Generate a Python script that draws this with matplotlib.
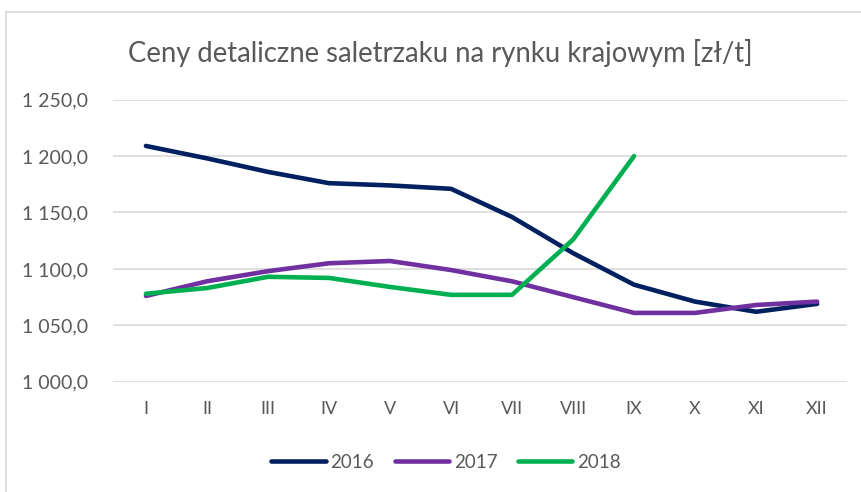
import matplotlib
matplotlib.use("Agg")
import matplotlib.pyplot as plt
from matplotlib.lines import Line2D
from matplotlib.ticker import FuncFormatter

months = ["I", "II", "III", "IV", "V", "VI", "VII", "VIII", "IX", "X", "XI", "XII"]
y2016 = [1209, 1198, 1186, 1176, 1174, 1171, 1146, 1114, 1086, 1071, 1062, 1069]
y2017 = [1076, 1089, 1098, 1105, 1107, 1099, 1089, 1075, 1061, 1061, 1068, 1071]
y2018 = [1078, 1083, 1093, 1092, 1084, 1077, 1077, 1126, 1200]
series = [("2016", y2016, "#002060"), ("2017", y2017, "#7030A0"), ("2018", y2018, "#00B050")]
title = "Ceny detaliczne saletrzaku na rynku krajowym [zł/t]"

plt.rcParams['font.family'] = ['Lato', 'DejaVu Sans']
txt = "#595959"

fig = plt.figure(figsize=(8.62, 4.92), dpi=100)
fig.patch.set_facecolor("white")
# chart border (left and top visible)
fig.add_artist(Line2D([6/862, 6/862], [0, 1 - 12/492], transform=fig.transFigure, color="#D9D9D9", lw=1.2))
fig.add_artist(Line2D([6/862, 1], [1 - 12/492, 1 - 12/492], transform=fig.transFigure, color="#D9D9D9", lw=1.2))

ax = fig.add_axes([113/862, 1 - 381.7/492, (847 - 113)/862, (381.7 - 99.7)/492])
x = list(range(len(months)))
for name, vals, c in series:
    ax.plot(x[:len(vals)], vals, color=c, lw=3.3, solid_capstyle="round", solid_joinstyle="round", label=name)

ax.set_ylim(1000, 1250)
ax.set_yticks([1000, 1050, 1100, 1150, 1200, 1250])
ax.yaxis.set_major_formatter(FuncFormatter(lambda v, p: ("{:,.1f}".format(v)).replace(",", " ").replace(".", ",")))
ax.set_xlim(-0.54, 11.49)
ax.set_xticks(x)
ax.set_xticklabels(months)
ax.grid(axis="y", color="#D9D9D9", lw=1.2)
ax.set_axisbelow(True)
for s in ax.spines.values():
    s.set_visible(False)
ax.tick_params(axis="both", length=0, colors=txt, labelsize=13)
ax.tick_params(axis="y", pad=18, labelsize=14)
ax.tick_params(axis="x", pad=14)

fig.text(440/862, 1 - 53/492, title, ha="center", va="center", fontsize=19.8, color=txt)

leg = fig.legend(loc="center", bbox_to_anchor=(446/862, 1 - 462/492), ncol=3, frameon=False,
                 fontsize=13.5, handlelength=2.9, handletextpad=0.25, columnspacing=1.1, labelcolor=txt)
fig.savefig("out.png", dpi=100, facecolor="white")
